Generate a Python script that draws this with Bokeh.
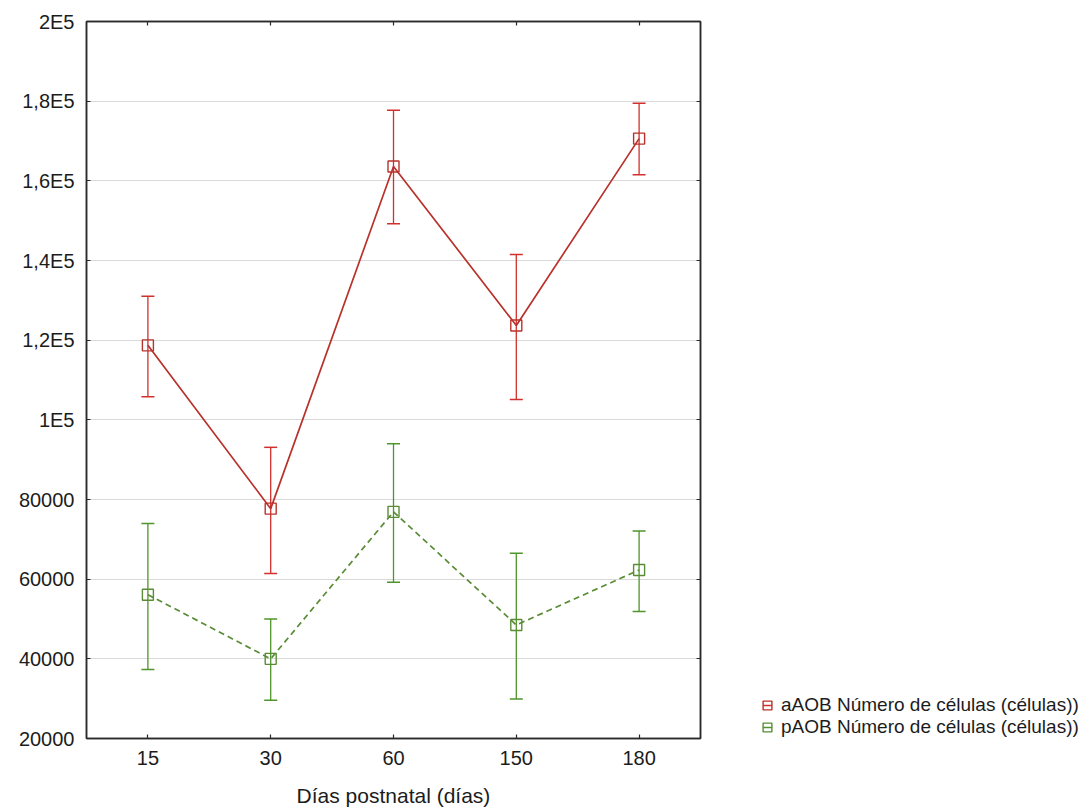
from bokeh.plotting import figure
from bokeh.layouts import row
from bokeh.models import (ColumnDataSource, Range1d, FactorRange, FixedTicker, LinearAxis,
                          CategoricalAxis, Legend, LegendItem, Whisker, TeeHead)
from bokeh.embed import file_html
from bokeh.resources import INLINE

# ---------------- data ----------------
days = ["15", "30", "60", "150", "180"]

a_mean = [118700, 77700, 163600, 123700, 170600]
a_upper = [131000, 93100, 177700, 141500, 179500]
a_lower = [105800, 61400, 149200, 105100, 161500]

p_mean = [56100, 40000, 76900, 48500, 62300]
p_upper = [74000, 50000, 94000, 66500, 72100]
p_lower = [37300, 29600, 59200, 29900, 51900]

ytick_values = [20000, 40000, 60000, 80000, 100000, 120000, 140000, 160000, 180000, 200000]
ytick_labels = ["20000", "40000", "60000", "80000", "1E5", "1,2E5", "1,4E5", "1,6E5", "1,8E5", "2E5"]

label_a = "aAOB Número de células (células))"
label_p = "pAOB Número de células (células))"
x_title = "Días postnatal (días)"

# ---------------- styles ----------------
RED_LINE = "#b8322c"
RED_BAR = "#d2302c"
GREEN_LINE = "#5a8c36"
GREEN_BAR = "#4f952a"
FONT = "Liberation Sans"
TXT = "#1c1c1c"
AXC = "#2a2a2a"

p = figure(width=706, height=811, x_range=FactorRange(*days),
           y_range=Range1d(20000, 200000), output_backend="svg",
           toolbar_location=None, min_border_left=86, min_border_right=6,
           min_border_top=21, min_border_bottom=73)
p.background_fill_color = "white"
p.border_fill_color = "white"
p.outline_line_color = AXC
p.outline_line_width = 1.5

src_a = ColumnDataSource(dict(x=days, y=a_mean, lo=a_lower, hi=a_upper))
src_p = ColumnDataSource(dict(x=days, y=p_mean, lo=p_lower, hi=p_upper))

for src, col in ((src_a, RED_BAR), (src_p, GREEN_BAR)):
    w = Whisker(base="x", upper="hi", lower="lo", source=src, line_color=col, line_width=1.3,
                upper_head=TeeHead(size=13, line_color=col, line_width=1.5),
                lower_head=TeeHead(size=13, line_color=col, line_width=1.5))
    p.add_layout(w)

p.line("x", "y", source=src_a, line_color=RED_LINE, line_width=1.7)
p.line("x", "y", source=src_p, line_color=GREEN_LINE, line_width=1.7, line_dash="6 4")

p.scatter("x", "y", source=src_a, marker="square", size=11, fill_alpha=0,
          line_color=RED_LINE, line_width=1.4)
p.scatter("x", "y", source=src_p, marker="square", size=11, fill_alpha=0,
          line_color=GREEN_LINE, line_width=1.4)

# ---------------- axes ----------------
def style_axis(ax, labels=True):
    ax.axis_line_color = AXC
    ax.axis_line_width = 1.5
    ax.major_tick_line_color = AXC
    ax.major_tick_line_width = 1.2
    ax.major_tick_in = 4
    ax.major_tick_out = 0
    ax.minor_tick_line_color = None
    ax.major_label_text_font = FONT
    ax.major_label_text_font_size = "20px"
    ax.major_label_text_color = TXT
    if not labels:
        ax.major_label_text_alpha = 0
        ax.major_label_text_font_size = "1px"
        ax.major_label_standoff = 0

yt = FixedTicker(ticks=ytick_values)
p.yaxis.ticker = yt
p.yaxis.major_label_overrides = {v: l for v, l in zip(ytick_values, ytick_labels)}
style_axis(p.yaxis[0])
p.yaxis.major_label_standoff = 12

style_axis(p.xaxis[0])
p.xaxis.major_label_standoff = 12
p.xaxis.axis_label = x_title
p.xaxis.axis_label_text_font = FONT
p.xaxis.axis_label_text_font_size = "21px"
p.xaxis.axis_label_text_font_style = "normal"
p.xaxis.axis_label_text_color = TXT
p.xaxis.axis_label_standoff = 16

ra = LinearAxis(ticker=FixedTicker(ticks=ytick_values))
style_axis(ra, labels=False)
p.add_layout(ra, "right")
ta = CategoricalAxis()
style_axis(ta, labels=False)
p.add_layout(ta, "above")

p.xgrid.visible = False
p.ygrid.ticker = yt
p.ygrid.grid_line_color = "#d9d9d9"
p.ygrid.grid_line_width = 1

# ---------------- legend panel (second, blank figure) ----------------
q = figure(width=385, height=811, x_range=Range1d(0, 1), y_range=Range1d(0, 1),
           output_backend="svg", toolbar_location=None, min_border=0,
           x_axis_location=None, y_axis_location=None)
q.outline_line_color = None
q.xgrid.visible = False
q.ygrid.visible = False
q.border_fill_color = "white"

# legend-only glyphs, placed outside the visible range
bar_a = q.scatter(x=[-5], y=[-5], marker="dash", angle=1.5708, size=16, line_color=RED_BAR, line_width=1.5)
sq_a = q.scatter(x=[-5], y=[-5], marker="square", size=9, fill_alpha=0, line_color=RED_LINE, line_width=1.4)
bar_p = q.scatter(x=[-5], y=[-5], marker="dash", angle=1.5708, size=16, line_color=GREEN_BAR, line_width=1.5)
sq_p = q.scatter(x=[-5], y=[-5], marker="square", size=9, fill_alpha=0, line_color=GREEN_LINE, line_width=1.4)

legend = Legend(items=[LegendItem(label=label_a, renderers=[bar_a, sq_a]),
                       LegendItem(label=label_p, renderers=[bar_p, sq_p])],
                location=(50, 0), orientation="vertical",
                label_text_font=FONT, label_text_font_size="19px", label_text_color=TXT,
                label_height=20, glyph_height=22, glyph_width=22, label_standoff=3,
                spacing=0, padding=0, margin=0,
                border_line_color=None, background_fill_alpha=0)
q.add_layout(legend)

layout = row(p, q, spacing=0)
open("out.html", "w").write(file_html(layout, INLINE))
